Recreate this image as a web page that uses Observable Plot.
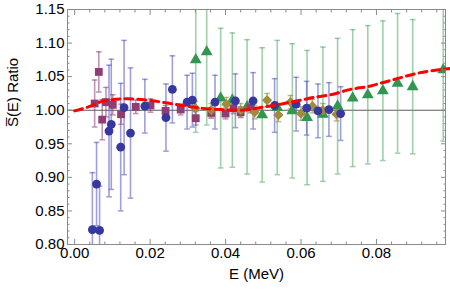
<!DOCTYPE html>
<html><head><meta charset="utf-8">
<script src="https://cdn.jsdelivr.net/npm/d3@7"></script>
<script src="https://cdn.jsdelivr.net/npm/@observablehq/plot@0.6"></script>
<style>body{margin:0;background:#fff} svg{display:block}</style>
</head><body><div id="chart"></div>
<script>
// Blue circles
const blueE   = [0.0047,0.0058,0.0066,0.0091,0.0097,0.0122,0.0131,0.0148,0.0186,0.0242,0.0259,0.0298,0.0312,0.0372,0.0426,0.0473,0.0530,0.0587,0.0615,0.0645,0.0674,0.0705];
const blueR   = [0.822,0.890,0.821,0.969,0.979,0.945,1.004,0.966,1.006,0.989,1.031,1.012,1.015,1.012,1.014,1.014,1.007,1.009,1.003,0.999,1.001,0.995];
const blueErr = [0.085,0.062,0.066,0.098,0.097,0.095,0.100,0.097,0.040,0.050,0.050,0.040,0.040,0.040,0.040,0.042,0.040,0.040,0.040,0.040,0.040,0.040];
// Purple squares
const purpE   = [0.0053,0.0064,0.0073,0.0083,0.0101,0.0123,0.0162,0.0201,0.0241,0.0281,0.0321,0.0362,0.0400,0.0421,0.0440,0.0466];
const purpR   = [1.010,1.057,0.986,1.012,1.008,0.994,1.005,1.007,0.999,1.001,0.988,0.996,0.995,1.003,0.997,1.004];
const purpErr = [0.035,0.030,0.030,0.022,0.015,0.015,0.010,0.010,0.008,0.008,0.010,0.008,0.008,0.008,0.008,0.008];
// Green triangles
const greenE   = [0.0321,0.0350,0.0387,0.0418,0.0457,0.0497,0.0537,0.0577,0.0616,0.0658,0.0697,0.0737,0.0777,0.0817,0.0856,0.0896,0.0977];
const greenR   = [1.075,1.087,1.018,1.015,1.005,0.993,1.004,0.999,0.989,0.994,1.006,1.018,1.023,1.029,1.040,1.035,1.060];
const greenErr = [0.108,0.109,0.104,0.100,0.100,0.100,0.100,0.100,0.100,0.100,0.101,0.102,0.103,0.104,0.104,0.100,0.106];
// Olive diamonds
const oliveE   = [0.0320,0.0362,0.0402,0.0440,0.0477,0.0510,0.0540,0.0572,0.0600,0.0630,0.0658,0.0694];
const oliveR   = [1.003,1.000,1.009,1.000,0.997,1.015,0.993,1.012,0.995,1.006,1.000,0.994];
const oliveErr = [0.010,0.010,0.010,0.010,0.010,0.010,0.010,0.010,0.010,0.010,0.010,0.010];
// Red dashed curve
const curveE = [0,0.0042,0.0078,0.0140,0.0193,0.0254,0.0299,0.0334,0.0387,0.0440,0.0493,0.0546,0.0599,0.0643,0.0678,0.0731,0.0784,0.0810,0.0855,0.0908,0.0961,0.0996];
const curveR = [0.999,1.006,1.014,1.017,1.015,1.010,1.006,1.003,1.001,1.000,1.004,1.009,1.015,1.020,1.023,1.031,1.036,1.040,1.047,1.055,1.060,1.062];
// Ticks
const xTicks = [0,0.02,0.04,0.06,0.08];
const yTicks = [0.80,0.85,0.90,0.95,1.00,1.05,1.10,1.15];
const xMinor = d3.range(0,0.1,0.004).map(v=>+v.toFixed(3)).filter(v=>!xTicks.some(t=>Math.abs(t-v)<1e-9));
const yMinor = d3.range(0.80,1.151,0.01).map(v=>+v.toFixed(2)).filter(v=>!yTicks.some(t=>Math.abs(t-v)<1e-9));

const rows = (E,R,Err)=>E.map((e,i)=>({e, r:R[i], lo:R[i]-Err[i], hi:R[i]+Err[i]}));
const blue = rows(blueE,blueR,blueErr), purp = rows(purpE,purpR,purpErr),
      green = rows(greenE,greenR,greenErr), olive = rows(oliveE,oliveR,oliveErr);
const curve = curveE.map((e,i)=>({e, r:curveR[i]}));

const cap = {draw(ctx,size){const w=Math.sqrt(size)/2; ctx.moveTo(-w,0); ctx.lineTo(w,0);}};

function errMarks(data, col){
  return [
    Plot.ruleX(data,{x:"e",y1:"lo",y2:"hi",stroke:col,strokeWidth:1.6,strokeOpacity:0.55,clip:true}),
    Plot.dot(data,{x:"e",y:"hi",symbol:cap,r:3.2,stroke:col,strokeWidth:1.5,strokeOpacity:0.55,fill:"none",clip:true}),
    Plot.dot(data,{x:"e",y:"lo",symbol:cap,r:3.2,stroke:col,strokeWidth:1.5,strokeOpacity:0.55,fill:"none",clip:true})
  ];
}
const font = "Liberation Sans, Arial, sans-serif";
const frameCol = "#8a8a8a";
const none = () => "";

const chart = Plot.plot({
  width:450, height:291,
  marginLeft:67, marginRight:5, marginTop:9, marginBottom:47,
  style:{fontFamily:font, fontSize:"15px", color:"#000", background:"#fff"},
  x:{domain:[-0.0019,0.0983]},
  y:{domain:[0.80,1.15]},
  marks:[
    Plot.frame({stroke:frameCol, strokeWidth:1}),
    Plot.ruleY([1],{stroke:"#333",strokeWidth:1.1,strokeOpacity:0.8}),
    ...errMarks(green,"rgb(80,170,100)"),
    ...errMarks(blue,"rgb(80,80,190)"),
    ...errMarks(purp,"rgb(140,60,120)"),
    ...errMarks(olive,"rgb(150,130,50)"),
    Plot.dot(green,{x:"e",y:"r",symbol:"triangle",r:4.4,fill:"rgb(50,150,80)",stroke:"none",clip:true}),
    Plot.dot(purp,{x:"e",y:"r",symbol:"square",r:4.4,fill:"rgb(145,60,115)",stroke:"none",clip:true}),
    Plot.dot(olive,{x:"e",y:"r",symbol:"diamond2",r:4.6,fill:"rgb(160,140,60)",stroke:"none",clip:true}),
    Plot.dot(blue,{x:"e",y:"r",r:4.4,fill:"rgb(55,55,160)",stroke:"none",clip:true}),
    Plot.line(curve,{x:"e",y:"r",curve:"monotone-x",stroke:"#ff0000",strokeWidth:3,strokeDasharray:"8,5"}),
    Plot.axisX(xTicks,{anchor:"bottom",tickSize:-5,tickPadding:8,stroke:frameCol,tickFormat:d3.format(".2f"),label:null,fill:"#000"}),
    Plot.axisX(xMinor,{anchor:"bottom",tickSize:-2.5,tickFormat:none,stroke:frameCol,label:null}),
    Plot.axisX(xTicks,{anchor:"top",tickSize:-5,tickFormat:none,stroke:frameCol,label:null}),
    Plot.axisX(xMinor,{anchor:"top",tickSize:-2.5,tickFormat:none,stroke:frameCol,label:null}),
    Plot.axisY(yTicks,{anchor:"left",tickSize:-5,tickPadding:8,stroke:frameCol,tickFormat:d3.format(".2f"),label:null,fill:"#000"}),
    Plot.axisY(yMinor,{anchor:"left",tickSize:-2.5,tickFormat:none,stroke:frameCol,label:null}),
    Plot.axisY(yTicks,{anchor:"right",tickSize:-5,tickFormat:none,stroke:frameCol,label:null}),
    Plot.axisY(yMinor,{anchor:"right",tickSize:-2.5,tickFormat:none,stroke:frameCol,label:null}),
    Plot.text(["E (MeV)"],{frameAnchor:"bottom",dy:34,fontSize:15,fill:"#000",text:d=>d}),
    Plot.text(["S\u0305(E) Ratio"],{frameAnchor:"left",dx:-54,rotate:-90,fontSize:15,fill:"#000",text:d=>d})
  ]
});
document.getElementById("chart").appendChild(chart);
</script>
</body></html>
